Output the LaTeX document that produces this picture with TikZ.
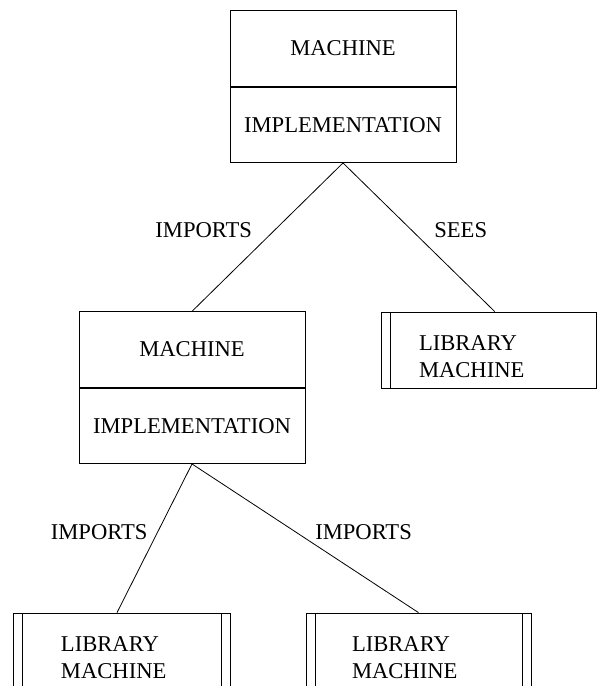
\documentclass[tikz,border=0pt]{standalone}
\usepackage{fontspec}
\setmainfont{Liberation Serif}
\usetikzlibrary{positioning}

\tikzset{
  part/.style={draw, minimum width=113pt, minimum height=37.75pt, inner sep=0pt},
  libbox/.style={draw, minimum height=38pt, align=left, inner ysep=0pt,
    path picture={
      \draw ([xshift=4.5pt]path picture bounding box.north west) -- ([xshift=4.5pt]path picture bounding box.south west);
    }},
  libboxtwo/.style={libbox,
    path picture={
      \draw ([xshift=4.5pt]path picture bounding box.north west) -- ([xshift=4.5pt]path picture bounding box.south west);
      \draw ([xshift=-4.5pt]path picture bounding box.north east) -- ([xshift=-4.5pt]path picture bounding box.south east);
    }},
}
\newcommand{\libtext}{\rule{0pt}{14pt}LIBRARY\\MACHINE}

\begin{document}
\begin{tikzpicture}[x=0.5pt, y=-0.5pt, font=\fontsize{11.3}{13.5}\selectfont]

  \path[use as bounding box, clip] (0,0) rectangle (597,686);

  % top implementation
  \node[part] (mach1) at (343,48.5) {MACHINE};
  \node[part, below=0pt of mach1] (impl1) {IMPLEMENTATION};

  % imported implementation
  \node[part] (mach2) at (192,349.5) {MACHINE};
  \node[part, below=0pt of mach2] (impl2) {IMPLEMENTATION};

  % library machines
  \node[libbox, inner xsep=19pt, text width=69.75pt] (lib1) at (488.75,350) {\libtext};
  \node[libboxtwo, inner xsep=24pt, text width=60.5pt] (lib2) at (121.5,651) {\libtext};
  \node[libboxtwo, inner xsep=23pt, text width=66.5pt] (lib3) at (418.5,651) {\libtext};

  % links
  \draw (impl1.south) -- (mach2.north) node[pos=0.45, left=8pt] (imp1) {IMPORTS};
  \draw (impl1.south) -- ([xshift=3pt]lib1.north) node[pos=0.45, right=8pt] (sees1) {SEES};
  \draw (impl2.south) -- ([xshift=-2.25pt]lib2.north) node[pos=0.46, left=1.5pt] (imp2) {IMPORTS};
  \draw (impl2.south) -- (lib3.north) node[pos=0.46, right=6pt] (imp3) {IMPORTS};

\end{tikzpicture}
\end{document}
